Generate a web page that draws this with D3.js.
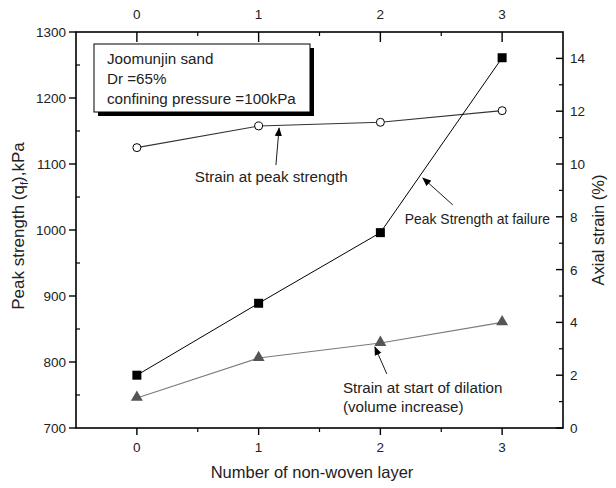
<!DOCTYPE html>
<html><head><meta charset="utf-8">
<script src="https://cdn.jsdelivr.net/npm/d3@7"></script>
<style>
html,body{margin:0;padding:0;background:#fff;}
svg{display:block;font-family:"Liberation Sans",Arial,sans-serif;}
</style></head>
<body><svg id="c" width="616" height="488"></svg>
<script>
const layers = [0, 1, 2, 3];
const peakStrength = [780, 889, 996, 1261];        // kPa, left axis
const strainAtPeak = [10.62, 11.44, 11.58, 12.02]; // %, right axis
const strainDilation = [1.14, 2.65, 3.22, 4.0];    // %, right axis
const xTicks = [0, 1, 2, 3];
const leftTicks = [700, 800, 900, 1000, 1100, 1200, 1300];
const rightTicks = [0, 2, 4, 6, 8, 10, 12, 14];
const legendLines = ["Joomunjin sand", "Dr =65%", "confining pressure =100kPa"];

const svg = d3.select("#c");
const L = 76, R = 563, T = 32, B = 428;
const x = d3.scaleLinear().domain([-0.5, 3.5]).range([L, R]);
const yL = d3.scaleLinear().domain([700, 1300]).range([B, T]);
const yR = d3.scaleLinear().domain([0, 15]).range([B, T]);

const fs = 13.5;
const txt = "#222";
const g = svg.append("g");

// frame
g.append("rect").attr("x", L).attr("y", T).attr("width", R - L).attr("height", B - T)
  .attr("fill", "none").attr("stroke", "#000").attr("stroke-width", 1.6);

function ticks(vals, fn) { vals.forEach(fn); }
const xMinor = [0.5, 1.5, 2.5];
ticks(xTicks, v => {
  g.append("line").attr("x1", x(v)).attr("x2", x(v)).attr("y1", B).attr("y2", B + 7).attr("stroke", "#000").attr("stroke-width", 1.4);
  g.append("text").attr("x", x(v)).attr("y", B + 24).attr("text-anchor", "middle").attr("font-size", fs).attr("fill", txt).text(v);
  g.append("line").attr("x1", x(v)).attr("x2", x(v)).attr("y1", T).attr("y2", T + 10).attr("stroke", "#000").attr("stroke-width", 1.4);
  g.append("text").attr("x", x(v)).attr("y", T - 13).attr("text-anchor", "middle").attr("font-size", fs).attr("fill", txt).text(v);
});
ticks(xMinor, v => {
  g.append("line").attr("x1", x(v)).attr("x2", x(v)).attr("y1", B).attr("y2", B + 4).attr("stroke", "#000").attr("stroke-width", 1.2);
  g.append("line").attr("x1", x(v)).attr("x2", x(v)).attr("y1", T).attr("y2", T + 4).attr("stroke", "#000").attr("stroke-width", 1.2);
});
// left axis
ticks(leftTicks, v => {
  g.append("line").attr("x1", L - 7).attr("x2", L).attr("y1", yL(v)).attr("y2", yL(v)).attr("stroke", "#000").attr("stroke-width", 1.4);
  g.append("text").attr("x", L - 10).attr("y", yL(v) + 5).attr("text-anchor", "end").attr("font-size", fs).attr("fill", txt).text(v);
});
ticks(d3.range(750, 1300, 100), v => {
  g.append("line").attr("x1", L).attr("x2", L + 4).attr("y1", yL(v)).attr("y2", yL(v)).attr("stroke", "#000").attr("stroke-width", 1.2);
});
// right axis
ticks(rightTicks, v => {
  g.append("line").attr("x1", R - 7).attr("x2", R).attr("y1", yR(v)).attr("y2", yR(v)).attr("stroke", "#000").attr("stroke-width", 1.4);
  g.append("text").attr("x", R + 7).attr("y", yR(v) + 5).attr("text-anchor", "start").attr("font-size", fs).attr("fill", txt).text(v);
});
ticks(d3.range(1, 15, 2), v => {
  g.append("line").attr("x1", R - 4).attr("x2", R).attr("y1", yR(v)).attr("y2", yR(v)).attr("stroke", "#000").attr("stroke-width", 1.2);
});

// axis titles
g.append("text").attr("x", 312).attr("y", 478).attr("text-anchor", "middle").attr("font-size", 16.5).attr("fill", txt).text("Number of non-woven layer");
const lt = g.append("text").attr("transform", `translate(24,${(T + B) / 2 - 4}) rotate(-90)`).attr("text-anchor", "middle").attr("font-size", 17).attr("fill", txt);
lt.append("tspan").text("Peak strength (q");
lt.append("tspan").attr("font-size", 11.5).attr("dy", 4).text("f");
lt.append("tspan").attr("dy", -4).text("),kPa");
g.append("text").attr("transform", `translate(604,${(T + B) / 2}) rotate(-90)`).attr("text-anchor", "middle").attr("font-size", 16.5).attr("fill", txt).text("Axial strain (%)");

// series lines
const lineL = d3.line().x((d, i) => x(layers[i])).y(d => yL(d));
const lineR = d3.line().x((d, i) => x(layers[i])).y(d => yR(d));
g.append("path").attr("d", lineR(strainDilation)).attr("fill", "none").attr("stroke", "#7a7a7a").attr("stroke-width", 1.1);
g.append("path").attr("d", lineR(strainAtPeak)).attr("fill", "none").attr("stroke", "#333").attr("stroke-width", 1.1);
g.append("path").attr("d", lineL(peakStrength)).attr("fill", "none").attr("stroke", "#000").attr("stroke-width", 1);

// markers
g.selectAll(".sq").data(peakStrength).enter().append("rect")
  .attr("x", (d, i) => x(layers[i]) - 4.5).attr("y", d => yL(d) - 4.5).attr("width", 9).attr("height", 9).attr("fill", "#000");
g.selectAll(".ci").data(strainAtPeak).enter().append("circle")
  .attr("cx", (d, i) => x(layers[i])).attr("cy", d => yR(d)).attr("r", 4).attr("fill", "#fff").attr("stroke", "#000").attr("stroke-width", 1);
const tri = d3.symbol().type(d3.symbolTriangle).size(62);
g.selectAll(".tr").data(strainDilation).enter().append("path")
  .attr("d", tri).attr("transform", (d, i) => `translate(${x(layers[i])},${yR(d) - 0.5})`).attr("fill", "#555");

// legend box with shadow
const bx = 94, by = 44, bw = 216, bh = 68;
g.append("rect").attr("x", bx + 4).attr("y", by + 4).attr("width", bw).attr("height", bh).attr("fill", "#000");
g.append("rect").attr("x", bx).attr("y", by).attr("width", bw).attr("height", bh).attr("fill", "#fff").attr("stroke", "#000").attr("stroke-width", 1);
legendLines.forEach((t, i) => {
  g.append("text").attr("x", bx + 13).attr("y", by + 20 + i * 20).attr("font-size", 15.2).attr("fill", txt).text(t);
});

// annotations (data coordinates on right axis)
const notes = [
  { lines: ["Strain at peak strength"], tx: 0.476, ty: 9.32, ax1: 1.142, ay1: 9.96, ax2: 1.168, ay2: 11.36, fs: 15.2 },
  { lines: ["Peak Strength at failure"], tx: 2.201, ty: 7.73, ax1: 2.595, ay1: 8.45, ax2: 2.349, ay2: 9.47, fs: 13.9 },
  { lines: ["Strain at start of dilation", "(volume increase)"], tx: 1.692, ty: 1.33, ax1: 2.053, ay1: 2.05, ax2: 1.955, ay2: 3.07, fs: 15.2 }
];
const defs = svg.append("defs");
defs.append("marker").attr("id", "ah").attr("viewBox", "0 0 10 10").attr("refX", 9).attr("refY", 5)
  .attr("markerWidth", 9).attr("markerHeight", 9).attr("markerUnits", "userSpaceOnUse").attr("orient", "auto")
  .append("path").attr("d", "M0,1 L10,5 L0,9 Z").attr("fill", "#000");
notes.forEach(n => {
  n.lines.forEach((t, i) => {
    g.append("text").attr("x", x(n.tx)).attr("y", yR(n.ty) + i * 19).attr("font-size", n.fs).attr("fill", txt).text(t);
  });
  g.append("line").attr("x1", x(n.ax1)).attr("y1", yR(n.ay1)).attr("x2", x(n.ax2)).attr("y2", yR(n.ay2))
    .attr("stroke", "#000").attr("stroke-width", 0.9).attr("marker-end", "url(#ah)");
});
</script></body></html>
